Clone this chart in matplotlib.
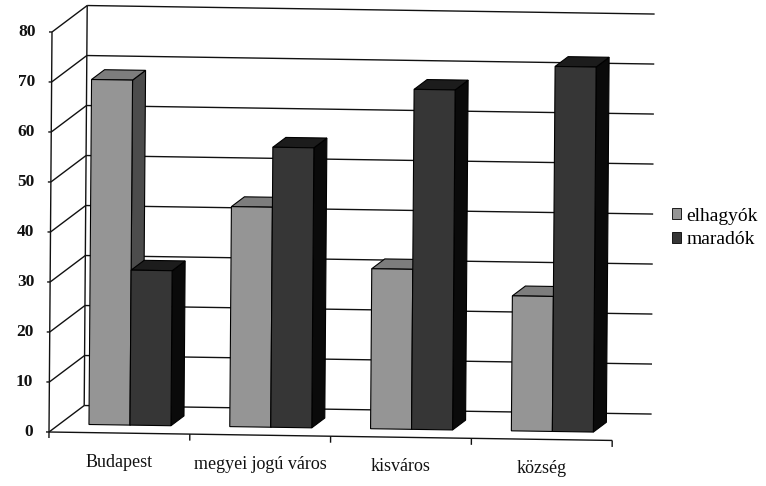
import matplotlib
matplotlib.use("Agg")
import matplotlib.pyplot as plt
from matplotlib.patches import Polygon, Patch
from matplotlib.transforms import Affine2D
from matplotlib.font_manager import FontProperties

# ---- data ----
categories = ["Budapest", "megyei jogú város", "kisváros", "község"]
series_names = ["elhagyók", "maradók"]
elhagyok = [69, 44, 32, 27]
maradok = [31, 56, 68, 73]
y_ticks = [0, 10, 20, 30, 40, 50, 60, 70, 80]

# ---- layout / style ----
W, H = 766, 486
fig = plt.figure(figsize=(W / 100, H / 100), dpi=100)
ax = fig.add_axes([0, 0, 1, 1])
ax.set_axis_off()

cat_px = 140.8        # pixels per category
val_px = 5.0          # pixels per value unit
x0_px, y0_px = 49, 432  # front-left origin (pixels from top-left)
ax.set_xlim(-x0_px / cat_px, (W - x0_px) / cat_px)
ax.set_ylim(-(H - y0_px) / val_px, y0_px / val_px)

# slight scan skew (display coords, y up)
k, m = 0.015, 0.0075
y0d = H - y0_px
skew = Affine2D([[1, m, -m * y0d], [-k, 1, k * x0_px], [0, 0, 1]])
T = ax.transData + skew

DX, DY = 35 / cat_px, 27 / val_px     # full depth vector in data units
ymax = 80
ncat = len(categories)

line_kw = dict(color="#111111", lw=1.0, solid_capstyle="butt", zorder=1,
               transform=T)

# back wall gridlines + left wall diagonals
for v in y_ticks:
    ax.plot([DX, ncat + DX + 0.03], [v + DY, v + DY], **line_kw)
    ax.plot([0, DX], [v, v + DY], **line_kw)
    ax.plot([-3 / cat_px, 0], [v, v], **line_kw)
# wall vertical edges
ax.plot([0, 0], [-1.2, ymax], **line_kw)
ax.plot([DX, DX], [DY, ymax + DY], **line_kw)
# floor front edge and category ticks
ax.plot([0, ncat], [0, 0], **line_kw)
for i in range(1, ncat + 1):
    ax.plot([i, i], [0, -1.3], **line_kw)

# tick labels
font = "Liberation Serif"
for v in y_ticks:
    ax.text(-16 / cat_px, v, str(v), ha="right", va="center", transform=T,
            fontsize=12.5, fontweight="bold", family=font, color="#111111")

for i, c in enumerate(categories):
    ax.text(i + 0.5, -5.8, c, ha="center", va="center", transform=T,
            fontsize=13, family=font, color="#111111")

# bars
bw = 41 / cat_px
d0, dd = 0.3, 0.37
fx, fy = d0 * DX, d0 * DY
bx, by = dd * DX, dd * DY
colors = [
    {"front": "#959595", "side": "#4c4c4c", "top": "#7d7d7d"},
    {"front": "#363636", "side": "#0a0a0a", "top": "#1c1c1c"},
]
edge = dict(edgecolor="#000000", linewidth=0.8, joinstyle="miter")

values = [elhagyok, maradok]
z = 3
for i in range(ncat):
    for j, vals in enumerate(values):
        v = vals[i]
        xl = i + 0.5 - bw + j * bw + fx
        xr = xl + bw
        yb = fy
        yt = fy + v
        front = [(xl, yb), (xr, yb), (xr, yt), (xl, yt)]
        side = [(xr, yb), (xr + bx, yb + by), (xr + bx, yt + by), (xr, yt)]
        top = [(xl, yt), (xr, yt), (xr + bx, yt + by), (xl + bx, yt + by)]
        for pts, key in ((side, "side"), (top, "top"), (front, "front")):
            ax.add_patch(Polygon(pts, closed=True, facecolor=colors[j][key],
                                 zorder=z, transform=T, **edge))
        z += 1

handles = [Patch(facecolor=colors[k2]["front"], edgecolor="#000000", lw=0.6,
                 label=series_names[k2]) for k2 in range(2)]
leg = ax.legend(handles=handles, loc="center left",
                bbox_to_anchor=(672 / W, 1 - 228 / H), frameon=False,
                handlelength=0.45, handleheight=0.45, handletextpad=0.3,
                labelspacing=0.35, borderpad=0, borderaxespad=0,
                prop=FontProperties(family=font, size=14))

fig.savefig("out.png", dpi=100)
